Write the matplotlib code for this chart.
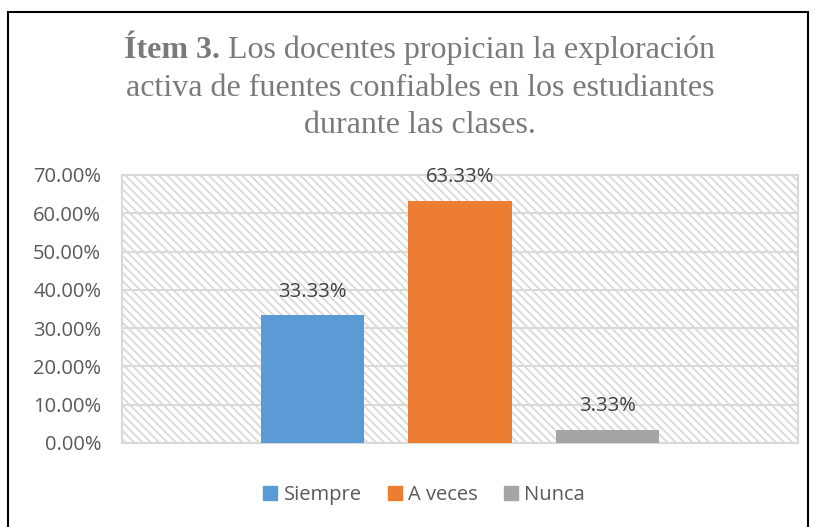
import matplotlib
matplotlib.use("Agg")
import matplotlib.pyplot as plt
from matplotlib.patches import Rectangle
import matplotlib as mpl

categories = ["Siempre", "A veces", "Nunca"]
values = [33.33, 63.33, 3.33]
colors = ["#5b9bd5", "#ed7d31", "#a5a5a5"]
yticks = [0, 10, 20, 30, 40, 50, 60, 70]
title_bold = "Ítem 3."
title_rest = " Los docentes propician la exploración"
title_lines = ["activa de fuentes confiables en los estudiantes", "durante las clases."]

mpl.rcParams['hatch.color'] = '#d9d9d9'
mpl.rcParams['hatch.linewidth'] = 1.3
mpl.rcParams['font.family'] = ['Open Sans', 'DejaVu Sans']

W, H = 814, 527
fig = plt.figure(figsize=(W/100, H/100), dpi=100)

# outer border
fig.add_artist(Rectangle((8/W, -0.01), 800/W, 1 - 12/H + 0.01, transform=fig.transFigure,
                         fill=False, edgecolor='black', linewidth=1.5))

left, right, top, bottom = 122, 798, 175, 443
ax = fig.add_axes([left/W, 1 - bottom/H, (right-left)/W, (bottom-top)/H])
ax.add_patch(Rectangle((0, 0), 1, 1, transform=ax.transAxes, facecolor='white',
                       hatch='\\\\\\\\', edgecolor='#d9d9d9', linewidth=0, zorder=0))
ax.set_facecolor('white')

unit = 148.0
xs = list(range(len(categories)))
bw = 104 / unit
bars = ax.bar(xs, values, width=bw, color=colors, zorder=3, label=None)
ax.set_xlim(-(313 - left)/unit, 2 + (right - 607)/unit)
ax.set_ylim(0, 70)
ax.set_yticks(yticks)
ax.set_yticklabels([f"{v:.2f}%" for v in yticks], fontsize=14.5, color='#595959')
ax.set_xticks([])
ax.tick_params(axis='y', length=0, pad=15)
ax.grid(axis='y', color='#d9d9d9', linewidth=1.5, zorder=1)
ax.set_axisbelow(True)
for s in ax.spines.values():
    s.set_color('#d9d9d9')
    s.set_linewidth(1.5)

for x, v in zip(xs, values):
    ax.annotate(f"{v:.2f}%", (x, v), xytext=(0, 10), textcoords='offset points',
                ha='center', va='bottom', fontsize=14.5, color='#404040', zorder=4)

# legend
handles = [Rectangle((0, 0), 1, 1, color=c) for c in colors]
fig.legend(handles, categories, loc='center', bbox_to_anchor=(424/W, 1 - 495/H), ncol=3,
           frameon=False, fontsize=14.5, handlelength=0.7, handleheight=0.7,
           handletextpad=0.3, columnspacing=1.3, labelcolor='#595959')

# title
tc = '#7a7a7a'
tsize = 23
cx = 420
fig.canvas.draw()
r = fig.canvas.get_renderer()
t1 = fig.text(0, 0, title_bold, fontsize=tsize, fontweight='bold', family='Liberation Serif', color=tc)
t2 = fig.text(0, 0, title_rest, fontsize=tsize, family='Liberation Serif', color=tc)
w1 = t1.get_window_extent(r).width
w2 = t2.get_window_extent(r).width
x0 = cx - (w1 + w2)/2
y1 = 1 - 50/H
t1.set_position((x0/W, y1)); t1.set_va('center')
t2.set_position(((x0 + w1)/W, y1)); t2.set_va('center')
for i, line in enumerate(title_lines):
    fig.text(cx/W, 1 - (88 + 38*i)/H, line, fontsize=tsize, family='Liberation Serif',
             color=tc, ha='center', va='center')

fig.savefig('out.png', dpi=100)
